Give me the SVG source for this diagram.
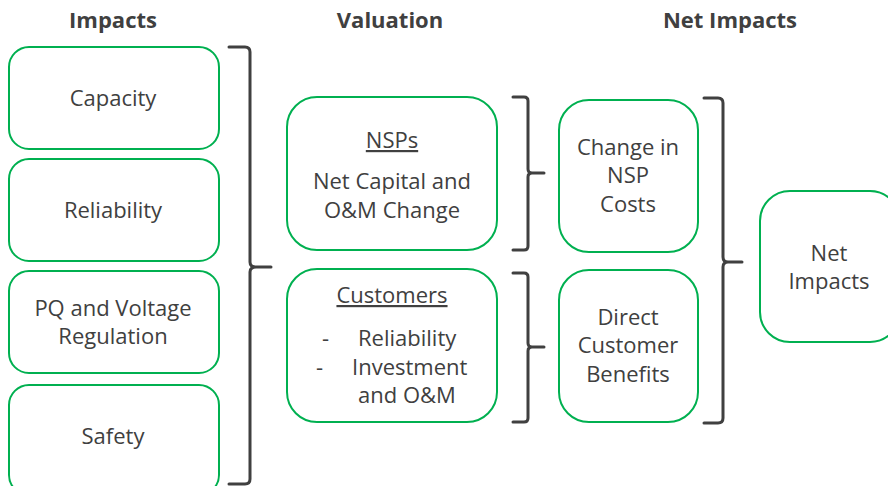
<svg xmlns="http://www.w3.org/2000/svg" width="888" height="486" viewBox="0 0 888 486">
<style>
.box{fill:#fff;stroke:#00B050;stroke-width:2}
.br{fill:none;stroke:#404040;stroke-width:3;stroke-linejoin:round;stroke-linecap:round}
text{font-family:"Open Sans","Noto Sans",sans-serif;fill:#404040;font-size:22px}
.h{font-weight:bold;font-size:22px}
.c{text-anchor:middle}
.u{text-decoration:underline}
</style>
<rect width="888" height="486" fill="#fff"/>
<g id="headers">
<text class="h c" x="113" y="28">Impacts</text>
<text class="h c" x="390" y="28">Valuation</text>
<text class="h c" x="730" y="28">Net Impacts</text>
</g>
<g id="capacity"><rect class="box" x="9" y="47" width="210" height="102" rx="20"/><text class="c" x="113" y="106">Capacity</text></g>
<g id="reliability"><rect class="box" x="9" y="159" width="210" height="102" rx="20"/><text class="c" x="113" y="218">Reliability</text></g>
<g id="pq"><rect class="box" x="9" y="271" width="210" height="102" rx="20"/><text class="c" x="113" y="316">PQ and Voltage</text><text class="c" x="113" y="344">Regulation</text></g>
<g id="safety"><rect class="box" x="9" y="385" width="210" height="110" rx="20"/><text class="c" x="113" y="444">Safety</text></g>
<g id="nsps"><rect class="box" x="287" y="97" width="210" height="153" rx="30"/><text class="c u" x="392" y="148">NSPs</text><text class="c" x="392" y="189">Net Capital and</text><text class="c" x="392" y="218">O&amp;M Change</text></g>
<g id="customers"><rect class="box" x="287" y="269" width="210" height="153" rx="30"/><text class="c u" x="392" y="303">Customers</text><text x="322" y="346">-</text><text x="358" y="346">Reliability</text><text x="316" y="375">-</text><text x="352" y="375">Investment</text><text x="358" y="403">and O&amp;M</text></g>
<g id="nspcosts"><rect class="box" x="559" y="100" width="139" height="152" rx="30"/><text class="c" x="628" y="155">Change in</text><text class="c" x="628" y="183">NSP</text><text class="c" x="628" y="212">Costs</text></g>
<g id="custbenefits"><rect class="box" x="559" y="270" width="139" height="152" rx="30"/><text class="c" x="628" y="325">Direct</text><text class="c" x="628" y="353">Customer</text><text class="c" x="628" y="382">Benefits</text></g>
<g id="netimpacts"><rect class="box" x="760" y="191" width="140" height="151" rx="30"/><text class="c" x="829" y="261">Net</text><text class="c" x="829" y="289">Impacts</text></g>
<g id="connectors">
<path class="br" d="M229,47 H245 Q250,47 250,52 V262 Q250,267 256,267 H271 M256,267 Q250,267 250,272 V479 Q250,484 245,484 H229"/>
<path class="br" d="M513,97 H524 Q528,97 528,101 V169 Q528,173 532,173 H544 M532,173 Q528,173 528,177 V246 Q528,250 524,250 H513"/>
<path class="br" d="M513,273 H524 Q528,273 528,277 V343 Q528,347 532,347 H544 M532,347 Q528,347 528,351 V418 Q528,422 524,422 H513"/>
<path class="br" d="M704,98 H718 Q723,98 723,103 V257 Q723,262 728,262 H742 M728,262 Q723,262 723,267 V418 Q723,423 718,423 H704"/>
</g>
</svg>
